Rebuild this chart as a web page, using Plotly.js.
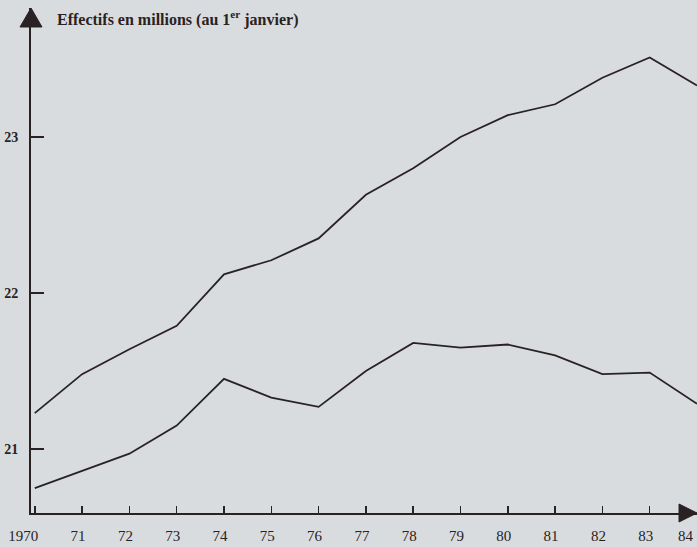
<!DOCTYPE html>
<html>
<head>
<meta charset="utf-8">
<script src="https://cdn.plot.ly/plotly-3.0.1.min.js"></script>
<style>
  html, body { margin: 0; padding: 0; background: #d9dcdf; }
  #chart { width: 697px; height: 547px; }
</style>
</head>
<body>
<div id="chart"></div>
<script>
// Data
const years = [1970, 1971, 1972, 1973, 1974, 1975, 1976, 1977, 1978, 1979, 1980, 1981, 1982, 1983, 1984];
const upperSeries = [21.23, 21.48, 21.64, 21.79, 22.12, 22.21, 22.35, 22.63, 22.80, 23.00, 23.14, 23.21, 23.38, 23.51, 23.33];
const lowerSeries = [20.75, 20.86, 20.97, 21.15, 21.45, 21.33, 21.27, 21.50, 21.68, 21.65, 21.67, 21.60, 21.48, 21.49, 21.29];
const xTickText = ["1970\u2002\u2002", "71", "72", "73", "74", "75", "76", "77", "78", "79", "80", "81", "82", "83", "84\u2002\u2002"];
const yTickVals = [21, 22, 23];
const yTickText = ["21", "22", "23"];
const axisTitle = "Effectifs en millions (au 1<sup>er</sup> janvier)";

const ink = "#2a2222";
const bg = "#d9dcdf";
const serif = "Liberation Serif, Times New Roman, serif";

const traces = [
  { x: years, y: upperSeries, type: "scatter", mode: "lines",
    line: { color: ink, width: 1.8 }, hoverinfo: "skip", showlegend: false },
  { x: years, y: lowerSeries, type: "scatter", mode: "lines",
    line: { color: ink, width: 1.8 }, hoverinfo: "skip", showlegend: false }
];

const layout = {
  width: 697, height: 547,
  margin: { l: 31, r: 0, t: 8, b: 34 },
  paper_bgcolor: bg, plot_bgcolor: bg,
  showlegend: false,
  xaxis: {
    range: [1969.92, 1984.0],
    showgrid: false, zeroline: false,
    showline: true, linecolor: ink, linewidth: 2,
    ticks: "inside", ticklen: 7, tickwidth: 1.5, tickcolor: ink,
    tickvals: years, ticktext: xTickText,
    tickfont: { family: serif, size: 15, color: ink },
    ticklabelstandoff: 8, ticklabelshift: -4,
    ticklabeloverflow: "allow",
    fixedrange: true
  },
  yaxis: {
    range: [20.59, 23.827],
    showgrid: false, zeroline: false,
    showline: true, linecolor: ink, linewidth: 2,
    ticks: "inside", ticklen: 13, tickwidth: 1.5, tickcolor: ink,
    tickvals: yTickVals, ticktext: yTickText,
    tickfont: { family: serif, size: 14, color: ink, weight: "bold" },
    ticklabelstandoff: 8,
    fixedrange: true
  },
  shapes: [
    { type: "path", xref: "paper", yref: "paper",
      path: "M 0 1 L -0.0165 0.9624 L 0.0165 0.9624 Z",
      fillcolor: ink, line: { color: ink, width: 1 } },
    { type: "path", xref: "paper", yref: "paper",
      path: "M 1 0 L 0.973 0.0178 L 0.973 -0.0178 Z",
      fillcolor: ink, line: { color: ink, width: 1 } }
  ],
  annotations: [
    { text: axisTitle, xref: "paper", yref: "paper",
      x: 0.036, y: 0.980, xanchor: "left", yanchor: "middle",
      showarrow: false,
      font: { family: serif, size: 16, color: ink, weight: "bold" } }
  ]
};

Plotly.newPlot("chart", traces, layout, { staticPlot: true, displayModeBar: false });
</script>
</body>
</html>
